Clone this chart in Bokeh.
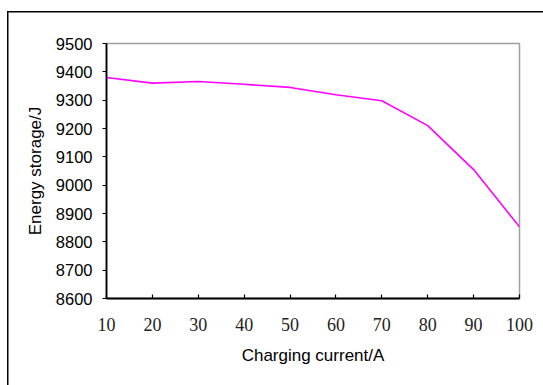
from bokeh.plotting import figure
from bokeh.layouts import column
from bokeh.models import Range1d, FixedTicker
from bokeh.embed import file_html
from bokeh.resources import INLINE

# Data
current_a = [10, 20, 30, 40, 50, 60, 70, 80, 90, 100]
energy_j = [9380, 9360, 9366, 9356, 9345, 9319, 9298, 9210, 9055, 8853]
x_ticks = [10, 20, 30, 40, 50, 60, 70, 80, 90, 100]
y_ticks = [8600, 8700, 8800, 8900, 9000, 9100, 9200, 9300, 9400, 9500]
x_title = "Charging current/A"
y_title = "Energy storage/J"

p = figure(width=543, height=385, output_backend="svg", toolbar_location=None,
           x_range=Range1d(10, 100), y_range=Range1d(8600, 9500),
           min_border_left=106, min_border_right=24, min_border_top=43,
           min_border_bottom=87)
p.border_fill_alpha = 0

p.line(current_a, energy_j, line_color="#FF00FF", line_width=1.6)

p.xgrid.visible = False
p.ygrid.visible = False
p.background_fill_color = "white"
p.outline_line_color = "#a0a0a0"
p.outline_line_width = 1.5

xa = p.xaxis[0]
xa.ticker = FixedTicker(ticks=x_ticks)
xa.axis_line_color = "black"
xa.axis_line_width = 1.8
xa.major_tick_in = 4
xa.major_tick_out = 0
xa.minor_tick_line_color = None
xa.major_tick_line_color = "black"
xa.major_tick_line_width = 1.2
xa.major_label_text_font = "Liberation Serif"
xa.major_label_text_font_size = "18px"
xa.major_label_text_color = "#222222"
xa.major_label_standoff = 19
xa.axis_label = x_title
xa.axis_label_text_font = "Liberation Sans"
xa.axis_label_text_font_size = "17px"
xa.axis_label_text_font_style = "normal"
xa.axis_label_text_color = "black"
xa.axis_label_standoff = 12

ya = p.yaxis[0]
ya.ticker = FixedTicker(ticks=y_ticks)
ya.axis_line_color = "black"
ya.axis_line_width = 1.8
ya.major_tick_in = 0
ya.major_tick_out = 4
ya.minor_tick_line_color = None
ya.major_tick_line_color = "black"
ya.major_tick_line_width = 1.2
ya.major_label_text_font = "Liberation Sans"
ya.major_label_text_font_size = "16.5px"
ya.major_label_text_color = "black"
ya.major_label_standoff = 10
ya.axis_label = y_title
ya.axis_label_text_font = "Liberation Sans"
ya.axis_label_text_font_size = "17px"
ya.axis_label_text_font_style = "normal"
ya.axis_label_text_color = "black"
ya.axis_label_standoff = 8

# outer picture border (left and top edges) drawn on the wrapping container
lay = column(p, styles={
    "background": ("linear-gradient(#000, #000) 7px 11px / 1.5px 380px no-repeat, "
                   "linear-gradient(#000, #000) 7px 11px / 536px 1.5px no-repeat, "
                   "#ffffff"),
})

open("out.html", "w").write(file_html(lay, INLINE))
